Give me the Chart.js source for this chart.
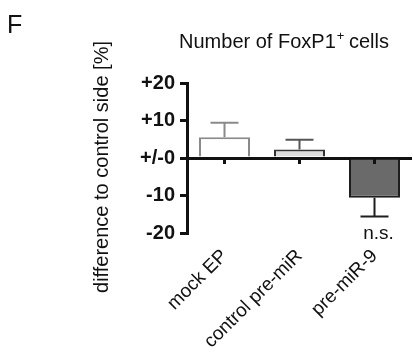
<!DOCTYPE html>
<html>
<head>
<meta charset="utf-8">
<script src="https://cdn.jsdelivr.net/npm/chart.js@4/dist/chart.umd.min.js"></script>
<style>
  html, body { margin: 0; padding: 0; background: #fff; }
  #wrap { width: 413px; height: 353px; }
</style>
</head>
<body>
<div id="wrap"><canvas id="myChart" width="413" height="353"></canvas></div>
<script>
// data
const categories = ["mock EP", "control pre-miR", "pre-miR-9"];
const means = [5.55, 2.25, -10.6];
const sem = [3.85, 2.65, 5.0];
const notes = ["", "", "n.s."];
const yTicks = [-20, -10, 0, 10, 20];

const fillColors = ["#ffffff", "#dcdcdc", "#6a6a6a"];
const edgeColors = ["#8a8a8a", "#333333", "#1e1e1e"];
const errColors = ["#8a8a8a", "#555555", "#1e1e1e"];

const FONT = "'Liberation Sans', Arial, sans-serif";

// one-sided error bars, x-axis ticks, labels
const extras = {
  id: "extras",
  afterDatasetsDraw(chart) {
    const ctx = chart.ctx;
    const x = chart.scales.x;
    const y = chart.scales.y;
    const y0 = y.getPixelForValue(0);
    ctx.save();
    means.forEach((m, i) => {
      const cx = x.getPixelForValue(i);
      const yBar = y.getPixelForValue(m);
      const yEnd = y.getPixelForValue(m + (m >= 0 ? sem[i] : -sem[i]));
      ctx.strokeStyle = errColors[i];
      ctx.lineWidth = 2;
      ctx.beginPath();
      ctx.moveTo(cx, yBar);
      ctx.lineTo(cx, yEnd);
      ctx.moveTo(cx - 14, yEnd);
      ctx.lineTo(cx + 14, yEnd);
      ctx.stroke();

      // category tick below the zero line
      ctx.strokeStyle = "#111";
      ctx.lineWidth = 3;
      ctx.beginPath();
      ctx.moveTo(cx, y0);
      ctx.lineTo(cx, y0 + 6);
      ctx.stroke();

      if (notes[i]) {
        ctx.fillStyle = "#111";
        ctx.font = "19px " + FONT;
        ctx.textAlign = "center";
        ctx.textBaseline = "alphabetic";
        ctx.fillText(notes[i], cx + 4, 239);
      }
    });

    // panel letter
    ctx.fillStyle = "#111";
    ctx.textAlign = "left";
    ctx.font = "25px " + FONT;
    ctx.fillText("F", 7, 33);

    // title with superscript
    const a = "Number of FoxP1", b = " cells";
    ctx.font = "20px " + FONT;
    const wa = ctx.measureText(a).width;
    ctx.font = "13px " + FONT;
    const ws = ctx.measureText("+").width;
    ctx.font = "20px " + FONT;
    const wb = ctx.measureText(b).width;
    let tx = 284 - (wa + ws + wb) / 2;
    ctx.fillText(a, tx, 48);
    tx += wa;
    ctx.font = "13px " + FONT;
    ctx.fillText("+", tx + 1, 40);
    tx += ws;
    ctx.font = "20px " + FONT;
    ctx.fillText(b, tx, 48);

    // y axis title
    ctx.save();
    ctx.translate(108, 167);
    ctx.rotate(-Math.PI / 2);
    ctx.textAlign = "center";
    ctx.font = "20px " + FONT;
    ctx.fillText("difference to control side [%]", 0, 0);
    ctx.restore();
    ctx.restore();
  }
};

const ctx = document.getElementById("myChart").getContext("2d");
const myChart = new Chart(ctx, {
  type: "bar",
  data: {
    labels: categories,
    datasets: [
      {
        data: means,
        backgroundColor: fillColors,
        borderColor: edgeColors,
        borderWidth: 2,
        barPercentage: 0.68,
        categoryPercentage: 1,
      },
    ],
  },
  options: {
    responsive: false,
    animation: false,
    devicePixelRatio: 1,
    layout: { padding: { top: 83, right: 1, left: 0, bottom: 0 } },
    plugins: { legend: { display: false }, tooltip: { enabled: false } },
    scales: {
      x: {
        grid: { display: false },
        border: { display: false },
        ticks: {
          color: "#111",
          font: { family: FONT, size: 19 },
          minRotation: 45,
          maxRotation: 45,
          padding: 4,
        },
        afterFit: (s) => { s.height = 120; },
      },
      y: {
        min: -20,
        max: 20,
        z: 1,
        afterBuildTicks: (s) => { s.ticks = yTicks.map((v) => ({ value: v })); },
        grid: {
          color: (c) => (c.tick && c.tick.value === 0 ? "#111" : "rgba(0,0,0,0)"),
          lineWidth: 3,
          tickColor: "#111",
          tickWidth: 3,
          tickLength: 7,
        },
        border: { display: true, color: "#111", width: 3 },
        ticks: {
          color: "#111",
          padding: 5,
          font: { family: FONT, size: 20, weight: "bold" },
          callback: (v) => (v > 0 ? "+" + v : v === 0 ? "+/-0" : String(v)),
        },
        afterFit: (s) => { s.width = 187; },
      },
    },
  },
  plugins: [extras],
});
</script>
</body>
</html>
